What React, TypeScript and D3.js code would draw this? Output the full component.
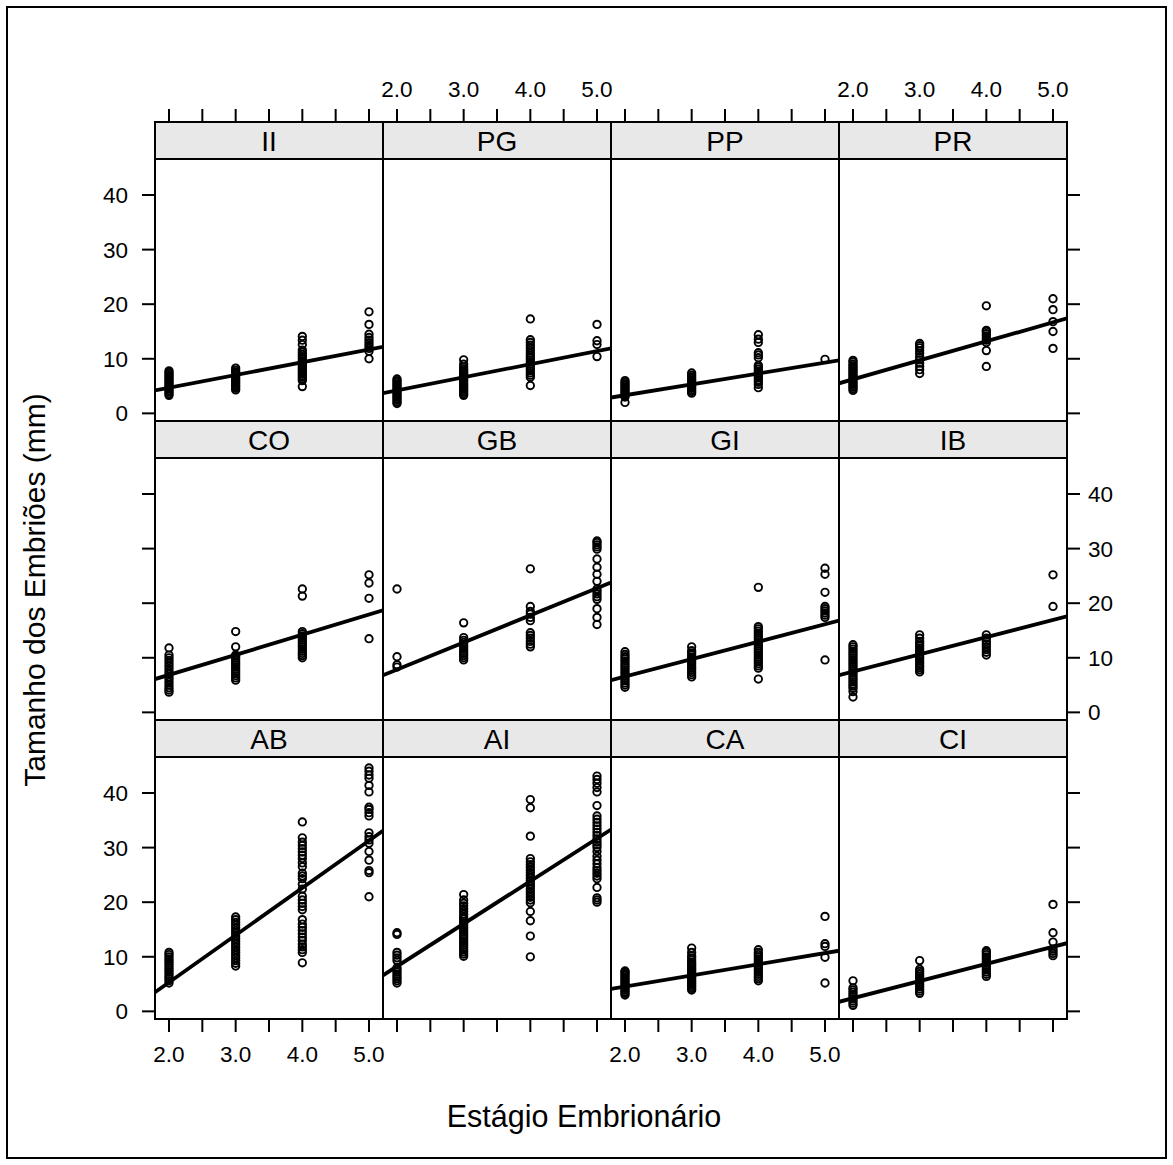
import React from "react";
import * as d3 from "d3";

const panelNames = ["II", "PG", "PP", "PR", "CO", "GB", "GI", "IB", "AB", "AI", "CA", "CI"];
const stages = [2, 3, 4, 5];
const xTicks = [2, 2.5, 3, 3.5, 4, 4.5, 5];
const xLabelTicks = [2, 3, 4, 5];
const yTicks = [0, 10, 20, 30, 40];

const II = [
  [3.3, 3.6, 3.9, 4.2, 4.5, 4.8, 5.1, 5.4, 5.7, 6.0, 6.3, 6.6, 6.9, 7.2, 7.5, 7.8],
  [4.3, 4.6, 4.9, 5.2, 5.5, 5.8, 6.1, 6.4, 6.7, 7.0, 7.3, 7.6, 7.9, 8.3],
  [4.9, 6.0, 6.3, 6.6, 6.9, 7.2, 7.5, 7.8, 8.1, 8.4, 8.7, 9.0, 9.3, 9.6, 10.0, 10.4, 10.8, 11.2, 11.6, 12.6, 13.4, 14.1],
  [10.0, 11.4, 11.9, 12.4, 12.9, 13.4, 13.9, 14.5, 16.3, 18.6],
];
const PG = [
  [1.8, 2.1, 2.4, 2.7, 3.0, 3.3, 3.6, 3.9, 4.2, 4.5, 4.8, 5.1, 5.4, 5.7, 6.0, 6.3],
  [3.3, 3.6, 3.9, 4.2, 4.5, 4.8, 5.1, 5.4, 5.7, 6.0, 6.3, 6.6, 6.9, 7.2, 7.5, 7.8, 8.1, 8.5, 9.0, 9.8],
  [5.1, 6.6, 7.0, 7.4, 7.8, 8.2, 8.6, 9.0, 9.4, 9.8, 10.2, 10.6, 11.0, 11.5, 12.0, 12.5, 13.0, 13.5, 17.3],
  [10.4, 12.6, 13.3, 16.3],
];
const PP = [
  [2.0, 3.0, 3.3, 3.6, 3.9, 4.2, 4.5, 4.8, 5.1, 5.4, 5.7, 6.0],
  [3.7, 4.0, 4.3, 4.6, 4.9, 5.2, 5.5, 5.8, 6.1, 6.4, 6.7, 7.0, 7.4],
  [4.7, 5.3, 5.7, 6.1, 6.5, 6.9, 7.3, 7.7, 8.1, 8.5, 8.8, 10.2, 10.7, 11.1, 13.0, 13.6, 14.4],
  [9.9],
];
const PR = [
  [4.2, 4.5, 4.8, 5.1, 5.4, 5.7, 6.0, 6.3, 6.6, 6.9, 7.2, 7.5, 7.8, 8.1, 8.4, 8.7, 9.0, 9.4, 9.7],
  [7.3, 8.0, 8.6, 9.2, 9.8, 10.4, 11.0, 11.5, 12.0, 12.4, 12.8],
  [8.6, 11.5, 13.0, 13.4, 13.8, 14.2, 14.6, 15.0, 15.2, 19.7],
  [11.9, 15.0, 16.8, 19.0, 21.0],
];
const CO = [
  [3.7, 4.1, 4.5, 5.0, 5.5, 6.0, 6.5, 7.0, 7.5, 8.0, 8.5, 9.0, 9.5, 10.0, 10.5, 11.8],
  [5.9, 6.3, 6.7, 7.1, 7.5, 7.9, 8.3, 8.7, 9.1, 9.5, 9.9, 10.3, 10.5, 12.0, 14.8],
  [10.0, 10.4, 10.8, 11.2, 11.6, 12.0, 12.4, 12.8, 13.2, 13.6, 14.0, 14.4, 14.8, 21.3, 22.6],
  [13.5, 20.9, 23.7, 25.2],
];
const GB = [
  [8.3, 8.7, 10.2, 22.6],
  [9.6, 10.0, 10.4, 10.8, 11.2, 11.6, 12.0, 12.4, 12.8, 13.2, 13.7, 16.4],
  [12.0, 12.5, 13.0, 13.6, 14.1, 14.6, 16.8, 17.4, 18.0, 18.5, 19.4, 26.3],
  [16.1, 17.4, 19.0, 20.7, 21.2, 21.7, 22.2, 22.6, 24.0, 25.3, 26.6, 28.1, 29.9, 30.3, 30.7, 31.1, 31.4],
];
const GI = [
  [4.6, 5.0, 5.4, 5.8, 6.2, 6.6, 7.0, 7.4, 7.8, 8.2, 8.6, 9.0, 9.4, 9.8, 10.2, 10.6, 11.1],
  [6.5, 6.9, 7.3, 7.7, 8.1, 8.5, 8.9, 9.3, 9.7, 10.1, 10.5, 10.9, 11.3, 12.0],
  [6.1, 8.1, 8.5, 8.9, 9.3, 9.7, 10.1, 10.5, 10.9, 11.3, 11.7, 12.1, 12.5, 12.9, 13.3, 13.7, 14.1, 14.5, 14.9, 15.3, 15.7, 22.9],
  [9.6, 17.4, 17.8, 18.2, 18.6, 19.0, 19.4, 22.0, 25.3, 26.4],
];
const IB = [
  [2.8, 3.8, 4.4, 4.8, 5.2, 5.6, 6.0, 6.4, 6.8, 7.2, 7.6, 8.0, 8.4, 8.8, 9.2, 9.6, 10.0, 10.4, 10.8, 11.2, 11.6, 12.0, 12.4],
  [7.4, 7.8, 8.2, 8.6, 9.0, 9.4, 9.8, 10.2, 10.6, 11.0, 11.4, 11.8, 12.2, 12.6, 13.0, 13.6, 14.2],
  [10.5, 11.0, 11.5, 12.0, 12.5, 13.0, 13.6, 14.2],
  [19.4, 25.2],
];
const AB = [
  [5.2, 5.6, 6.0, 6.4, 6.8, 7.2, 7.6, 8.0, 8.4, 8.8, 9.2, 9.6, 10.0, 10.4, 10.8],
  [8.3, 8.8, 9.3, 9.8, 10.3, 10.8, 11.3, 11.8, 12.3, 12.8, 13.3, 13.8, 14.3, 14.8, 15.3, 15.8, 16.3, 16.8, 17.3],
  [8.9, 10.8, 11.3, 11.8, 12.3, 13.0, 13.6, 14.2, 14.8, 15.4, 16.0, 16.8, 18.6, 19.2, 19.8, 20.4, 21.1, 22.4, 23.3, 24.3, 24.8, 25.3, 26.5, 27.2, 28.0, 28.6, 29.2, 29.8, 30.4, 31.0, 31.8, 34.7],
  [21.0, 25.4, 25.8, 27.7, 29.3, 30.8, 31.4, 32.0, 32.7, 35.8, 36.4, 37.0, 37.4, 40.2, 41.4, 42.7, 43.3, 44.0, 44.6],
];
const AI = [
  [5.2, 5.6, 6.0, 6.4, 6.8, 7.2, 7.6, 8.0, 9.3, 9.8, 10.3, 10.8, 14.1, 14.4],
  [10.1, 10.5, 10.9, 11.3, 11.7, 12.1, 12.5, 12.9, 13.3, 13.7, 14.1, 14.5, 14.9, 15.3, 15.7, 16.1, 16.5, 16.9, 17.3, 17.8, 18.3, 18.8, 19.3, 19.8, 20.4, 21.4],
  [10.0, 13.8, 16.6, 18.3, 19.9, 20.4, 20.9, 21.4, 21.9, 22.4, 22.9, 23.4, 23.9, 24.4, 24.9, 25.4, 25.9, 26.4, 26.9, 27.4, 28.0, 32.1, 37.3, 38.8],
  [20.0, 20.4, 20.8, 22.7, 24.3, 24.8, 25.3, 25.8, 26.3, 27.0, 27.7, 28.4, 29.3, 30.0, 30.5, 31.0, 31.6, 32.2, 32.8, 33.4, 34.0, 34.6, 35.2, 35.8, 37.7, 40.2, 41.0, 41.8, 42.5, 43.1],
];
const CA = [
  [3.0, 3.3, 3.6, 3.9, 4.2, 4.5, 4.8, 5.1, 5.4, 5.7, 6.0, 6.3, 6.6, 6.9, 7.2, 7.4],
  [3.9, 4.2, 4.5, 4.8, 5.1, 5.4, 5.7, 6.0, 6.3, 6.6, 6.9, 7.2, 7.5, 7.8, 8.1, 8.4, 8.7, 9.0, 9.4, 9.8, 10.2, 10.8, 11.6],
  [5.6, 6.0, 6.4, 6.8, 7.2, 7.6, 8.0, 8.4, 8.8, 9.2, 9.6, 10.0, 10.4, 10.8, 11.3],
  [5.2, 9.9, 11.9, 12.4, 17.4],
];
const CI = [
  [1.1, 1.5, 1.9, 2.3, 2.7, 3.1, 3.5, 3.9, 4.3, 5.6],
  [3.3, 3.7, 4.1, 4.5, 4.9, 5.3, 5.7, 6.1, 6.5, 6.9, 7.3, 7.7, 9.3],
  [6.4, 6.8, 7.2, 7.6, 8.0, 8.4, 8.8, 9.2, 9.6, 10.0, 10.4, 10.8, 11.1],
  [10.2, 10.6, 11.0, 11.4, 12.7, 14.4, 19.6],
];
const panelData = [II, PG, PP, PR, CO, GB, GI, IB, AB, AI, CA, CI];

// fitted regression lines (intercept, slope)
const fitIntercept = [0.01, -0.59, -0.66, -0.73, -0.49, -2.1, 0.19, 1.14, -11.98, -7.38, 0.43, -3.87];
const fitSlope = [2.34, 2.4, 1.99, 3.48, 3.68, 4.97, 3.19, 3.16, 8.65, 7.81, 2.05, 3.14];

const W = 1173;
const H = 1165;
const nCols = 4;
const colX0 = 155;
const colW = 228;
const rowY0 = 122;
const rowPeriod = 299;
const stripH = 37;
const panelH = 262;
const tickLen = 13;
const font = "Arial, 'Liberation Sans', Helvetica, sans-serif";
const tickFont = 22.5;

export default function App() {
  const x = d3.scaleLinear().domain([1.79, 5.21]).range([0, colW]);
  const y = d3.scaleLinear().domain([-1.4, 46.6]).range([panelH, 0]);
  const fmt = d3.format(".1f");
  const lastRow = 2;

  const panels = panelNames.map((name, i) => {
    const col = i % nCols;
    const row = Math.floor(i / nCols);
    const px = colX0 + col * colW;
    const sy = rowY0 + row * rowPeriod;
    const py = sy + stripH;
    const data = panelData[i];
    const a = fitIntercept[i];
    const b = fitSlope[i];
    const [x0, x1] = x.domain();
    const clipId = `clip-${i}`;
    return (
      <g key={name}>
        <clipPath id={clipId}>
          <rect x={px} y={py} width={colW} height={panelH} />
        </clipPath>
        <rect x={px} y={sy} width={colW} height={stripH} fill="#e8e8e8" stroke="#000" strokeWidth={2} />
        <text x={px + colW / 2} y={sy + stripH / 2 + 10} textAnchor="middle" fontSize={28} fontFamily={font}>
          {name}
        </text>
        <g clipPath={`url(#${clipId})`}>
          {data.map((vals, si) =>
            vals.map((v, k) => (
              <circle
                key={`${si}-${k}`}
                cx={px + x(stages[si])}
                cy={py + y(v)}
                r={3.7}
                fill="none"
                stroke="#000"
                strokeWidth={1.9}
              />
            ))
          )}
          <line
            x1={px + x(x0)}
            y1={py + y(a + b * x0)}
            x2={px + x(x1)}
            y2={py + y(a + b * x1)}
            stroke="#000"
            strokeWidth={3.8}
          />
        </g>
        <rect x={px} y={py} width={colW} height={panelH} fill="none" stroke="#000" strokeWidth={2} />
        {row === 0 &&
          xTicks.map((t) => (
            <line key={`tt${t}`} x1={px + x(t)} x2={px + x(t)} y1={sy} y2={sy - tickLen} stroke="#000" strokeWidth={2} />
          ))}
        {row === 0 &&
          col % 2 === 1 &&
          xLabelTicks.map((t) => (
            <text key={`tl${t}`} x={px + x(t)} y={97} textAnchor="middle" fontSize={tickFont} fontFamily={font}>
              {fmt(t)}
            </text>
          ))}
        {row === lastRow &&
          xTicks.map((t) => (
            <line
              key={`bt${t}`}
              x1={px + x(t)}
              x2={px + x(t)}
              y1={py + panelH}
              y2={py + panelH + tickLen}
              stroke="#000"
              strokeWidth={2}
            />
          ))}
        {row === lastRow &&
          col % 2 === 0 &&
          xLabelTicks.map((t) => (
            <text key={`bl${t}`} x={px + x(t)} y={1062} textAnchor="middle" fontSize={tickFont} fontFamily={font}>
              {fmt(t)}
            </text>
          ))}
        {col === 0 &&
          yTicks.map((t) => (
            <line key={`lt${t}`} x1={px} x2={px - tickLen} y1={py + y(t)} y2={py + y(t)} stroke="#000" strokeWidth={2} />
          ))}
        {col === 0 &&
          row % 2 === 0 &&
          yTicks.map((t) => (
            <text key={`ll${t}`} x={px - 27} y={py + y(t) + 8} textAnchor="end" fontSize={tickFont} fontFamily={font}>
              {t}
            </text>
          ))}
        {col === nCols - 1 &&
          yTicks.map((t) => (
            <line
              key={`rt${t}`}
              x1={px + colW}
              x2={px + colW + tickLen}
              y1={py + y(t)}
              y2={py + y(t)}
              stroke="#000"
              strokeWidth={2}
            />
          ))}
        {col === nCols - 1 &&
          row % 2 === 1 &&
          yTicks.map((t) => (
            <text key={`rl${t}`} x={px + colW + 21} y={py + y(t) + 8} textAnchor="start" fontSize={tickFont} fontFamily={font}>
              {t}
            </text>
          ))}
      </g>
    );
  });

  return (
    <div>
      <style>{"body{margin:0;}"}</style>
      <svg width={W} height={H} style={{ display: "block", background: "#fff" }}>
        <rect x={0} y={0} width={W} height={H} fill="#fff" />
        <rect x={7} y={7} width={1159} height={1151} fill="none" stroke="#000" strokeWidth={2} />
        {panels}
        <text x={584} y={1127} textAnchor="middle" fontSize={30.5} fontFamily={font}>
          Estágio Embrionário
        </text>
        <text transform={`translate(45, 590) rotate(-90)`} textAnchor="middle" fontSize={30} fontFamily={font}>
          Tamanho dos Embriões (mm)
        </text>
      </svg>
    </div>
  );
}
